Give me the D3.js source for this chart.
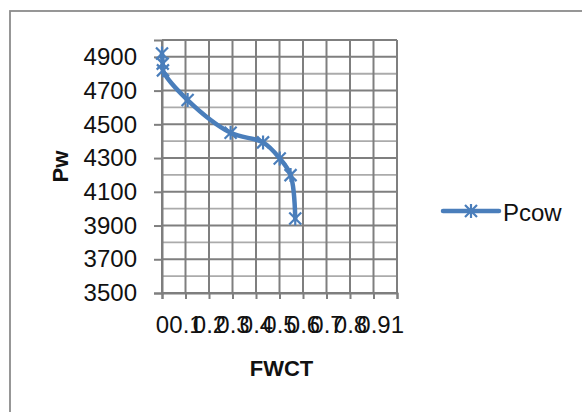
<!DOCTYPE html>
<html>
<head>
<meta charset="utf-8">
<script src="https://cdn.jsdelivr.net/npm/d3@7"></script>
<style>
  body { margin: 0; background: #fff; }
  svg { display: block; font-family: "Liberation Sans", Arial, sans-serif; }
</style>
</head>
<body>
<svg></svg>
<script>
// constants
const WIDTH = 582;
const HEIGHT = 412;
const PLOT = { left: 162, right: 397, top: 40, bottom: 293 };

// data
const seriesName = 'Pcow';
const fwct = [0, 0.003, 0.004, 0.109, 0.292, 0.43, 0.501, 0.547, 0.567];
const pw = [4920, 4860, 4820, 4644, 4450, 4393, 4298, 4199, 3942];
const xTicks = [0, 0.1, 0.2, 0.3, 0.4, 0.5, 0.6, 0.7, 0.8, 0.9, 1];
const yTicks = [3500, 3700, 3900, 4100, 4300, 4500, 4700, 4900];
const yMinor = [3600, 3800, 4000, 4200, 4400, 4600, 4800, 5000];

const LINE_COLOR = '#4a7ebb';
const GRID = '#7f7f7f';
const GRID_MINOR = '#ababab';

const svg = d3.select('svg')
    .attr('width', WIDTH)
    .attr('height', HEIGHT);

// chart border (runs off the right and bottom edge)
svg.append('rect')
    .attr('x', 10).attr('y', 11)
    .attr('width', 600).attr('height', 440)
    .attr('fill', 'none')
    .attr('stroke', '#8c8c8c')
    .attr('stroke-width', 1.8);

// scales
const x = d3.scaleLinear().domain([0, 1]).range([PLOT.left, PLOT.right]);
const y = d3.scaleLinear().domain([3500, 5000]).range([PLOT.bottom, PLOT.top]);

// gridlines
svg.append('g').selectAll('line')
    .data(yMinor).join('line')
    .attr('x1', PLOT.left).attr('x2', PLOT.right)
    .attr('y1', d => y(d)).attr('y2', d => y(d))
    .attr('stroke', d => d === 5000 ? GRID : GRID_MINOR)
    .attr('stroke-width', 1.8);

svg.append('g').selectAll('line')
    .data(yTicks).join('line')
    .attr('x1', PLOT.left).attr('x2', PLOT.right)
    .attr('y1', d => y(d)).attr('y2', d => y(d))
    .attr('stroke', GRID)
    .attr('stroke-width', 2);

svg.append('g').selectAll('line')
    .data(xTicks).join('line')
    .attr('x1', d => x(d)).attr('x2', d => x(d))
    .attr('y1', PLOT.top).attr('y2', PLOT.bottom)
    .attr('stroke', GRID)
    .attr('stroke-width', 2);

// axes
const fmtX = d => (d === 0 || d === 1) ? String(d) : d3.format('.1f')(d);

const yAxis = svg.append('g')
    .attr('transform', `translate(${PLOT.left},0)`)
    .call(d3.axisLeft(y).tickValues(yTicks).tickSize(8).tickPadding(17).tickFormat(d3.format('d')));

const xAxis = svg.append('g')
    .attr('transform', `translate(0,${PLOT.bottom})`)
    .call(d3.axisBottom(x).tickValues(xTicks).tickSize(6).tickPadding(17).tickFormat(fmtX));

[xAxis, yAxis].forEach(a => {
    a.select('.domain').attr('stroke', GRID).attr('stroke-width', 2);
    a.selectAll('.tick line').attr('stroke', GRID).attr('stroke-width', 2);
    a.selectAll('.tick text')
        .attr('fill', '#111')
        .attr('font-family', '"Liberation Sans", Arial, sans-serif')
        .attr('font-size', 24);
});

// axis titles
svg.append('text')
    .attr('x', (PLOT.left + PLOT.right) / 2 + 2)
    .attr('y', 376)
    .attr('text-anchor', 'middle')
    .attr('font-size', 22)
    .attr('font-weight', 'bold')
    .attr('fill', '#111')
    .text('FWCT');

svg.append('text')
    .attr('transform', `translate(68,${(PLOT.top + PLOT.bottom) / 2}) rotate(-90)`)
    .attr('text-anchor', 'middle')
    .attr('font-size', 22)
    .attr('font-weight', 'bold')
    .attr('fill', '#111')
    .text('Pw');

// series
const points = fwct.map((d, i) => [d, pw[i]]);

const line = d3.line()
    .x(d => x(d[0]))
    .y(d => y(d[1]))
    .curve(d3.curveCatmullRom.alpha(0.5));

svg.append('path')
    .datum(points)
    .attr('d', line)
    .attr('fill', 'none')
    .attr('stroke', LINE_COLOR)
    .attr('stroke-width', 4.5)
    .attr('stroke-linejoin', 'round')
    .attr('stroke-linecap', 'round');

// star marker: x plus vertical bar
function star(g, s) {
    g.append('path')
        .attr('d', `M${-s},${-s}L${s},${s}M${-s},${s}L${s},${-s}M0,${-s - 1}L0,${s + 1}`)
        .attr('stroke', LINE_COLOR)
        .attr('stroke-width', 2.2)
        .attr('fill', 'none');
}

svg.append('g').selectAll('g')
    .data(points).join('g')
    .attr('transform', d => `translate(${x(d[0])},${y(d[1])})`)
    .each(function() { star(d3.select(this), 6); });

// legend
const legend = svg.append('g').attr('transform', 'translate(443,211)');
legend.append('line')
    .attr('x1', 0).attr('x2', 56)
    .attr('stroke', LINE_COLOR)
    .attr('stroke-width', 4.5)
    .attr('stroke-linecap', 'round');
star(legend.append('g').attr('transform', 'translate(28,0)'), 6);
legend.append('text')
    .attr('x', 60)
    .attr('y', 10)
    .attr('font-size', 24)
    .attr('fill', '#111')
    .text(seriesName);
</script>
</body>
</html>
